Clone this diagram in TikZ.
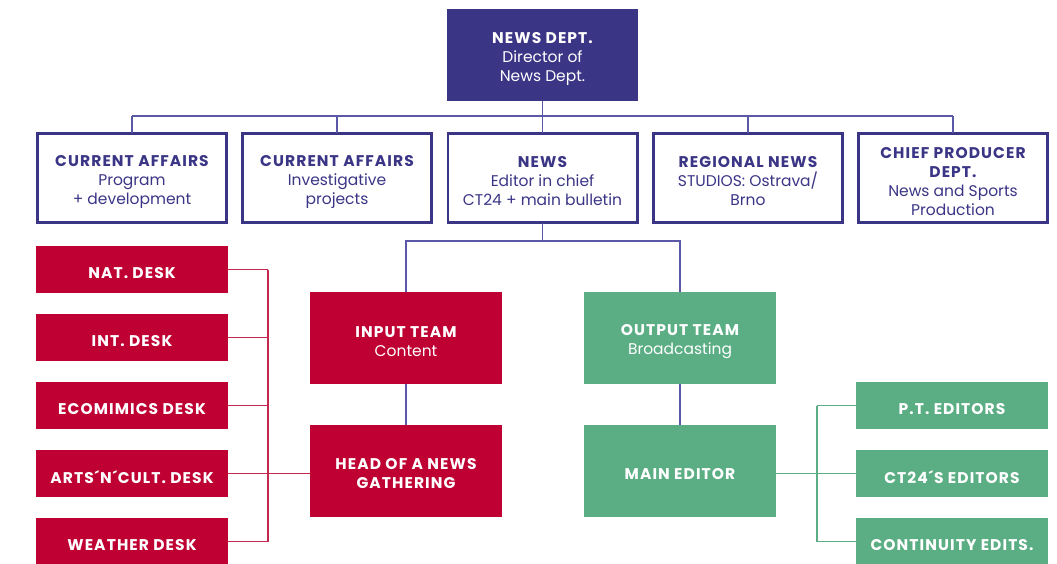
\documentclass[tikz,border=0pt]{standalone}
\usepackage{fontspec}
\setmainfont{Poppins}
\definecolor{navy}{RGB}{59,53,134}
\definecolor{navyline}{RGB}{92,88,168}
\definecolor{crimson}{RGB}{190,0,50}
\definecolor{crimsonline}{RGB}{196,40,78}
\definecolor{jade}{RGB}{91,174,132}
\newcommand\hd[1]{{\bfseries\addfontfeature{LetterSpace=7}#1}}
% box macro: style, text colour, name, position, text
\newcommand\bx[5]{\node[#1, label={[text=#2, yshift=-3.5pt]center:{#5}}] (#3) at (#4) {};}
\begin{document}
\begin{tikzpicture}[x=1pt,y=-1pt,
  every node/.style={inner sep=0pt, outer sep=0pt, align=center,
    font=\fontsize{15.5}{19}\selectfont},
  topbox/.style={fill=navy, minimum width=191, minimum height=92},
  deptbox/.style={draw=navy, line width=2.7pt, fill=white,
    minimum width=189.3, minimum height=89.3},
  redbox/.style={fill=crimson, minimum width=192, minimum height=92},
  greenbox/.style={fill=jade, minimum width=192, minimum height=92},
  reddesk/.style={fill=crimson, minimum width=192, minimum height=47},
  greendesk/.style={fill=jade, minimum width=192, minimum height=47},
  navylink/.style={draw=navyline, line width=1.5pt},
  redlink/.style={draw=crimsonline, line width=1.4pt},
  greenlink/.style={draw=jade, line width=1.4pt}]
\useasboundingbox (0,0) rectangle (1057,563);
\bx{topbox}{white}{top}{542.5,55}{\hd{NEWS DEPT.}\\Director of\\News Dept.}
\bx{deptbox}{navy}{c1}{132,178}{\hd{CURRENT AFFAIRS}\\Program\\+ development}
\bx{deptbox}{navy}{c2}{337,178}{\hd{CURRENT AFFAIRS}\\Investigative\\projects}
\bx{deptbox}{navy}{c3}{542.5,178}{\hd{NEWS}\\Editor in chief\\CT24 + main bulletin}
\bx{deptbox}{navy}{c4}{748,178}{\hd{REGIONAL NEWS}\\STUDIOS: Ostrava/\\Brno}
\bx{deptbox}{navy}{c5}{953,178}{\hd{CHIEF PRODUCER}\\\hd{DEPT.}\\News and Sports\\Production}
\bx{redbox}{white}{input}{406,338}{\hd{INPUT TEAM}\\Content}
\bx{greenbox}{white}{output}{680,338}{\hd{OUTPUT TEAM}\\Broadcasting}
\bx{redbox}{white}{head}{406,470.5}{\hd{HEAD OF A NEWS}\\\hd{GATHERING}}
\bx{greenbox}{white}{main}{680,470.5}{\hd{MAIN EDITOR}}
\bx{reddesk}{white}{nat}{132,269.5}{\hd{NAT. DESK}}
\bx{reddesk}{white}{int}{132,337.5}{\hd{INT. DESK}}
\bx{reddesk}{white}{eco}{132,405.5}{\hd{ECOMIMICS DESK}}
\bx{reddesk}{white}{arts}{132,473.5}{\hd{ARTS´N´CULT. DESK}}
\bx{reddesk}{white}{weather}{132,541.5}{\hd{WEATHER DESK}}
\bx{greendesk}{white}{pt}{952,405.5}{\hd{P.T. EDITORS}}
\bx{greendesk}{white}{ct}{952,473.5}{\hd{CT24´S EDITORS}}
\bx{greendesk}{white}{cont}{952,541.5}{\hd{CONTINUITY EDITS.}}
\coordinate (hb) at (542.5,116);
\coordinate (hb2) at (542.5,241);
\coordinate (rb) at (268,0);
\coordinate (gb) at (817,0);
% top connectors
\draw[navylink] (top.south) -- (hb);
\draw[navylink] (c1.north |- hb) -- (c5.north |- hb);
\foreach \c in {c1,c2,c3,c4,c5} \draw[navylink] (\c.north) -- (\c.north |- hb);
\draw[navylink] (c3.south) -- (hb2);
\draw[navylink] (input.north) |- (hb2) -| (output.north);
\draw[navylink] (input.south) -- (head.north);
\draw[navylink] (output.south) -- (main.north);
% red desks
\foreach \d in {nat,int,eco,arts,weather} \draw[redlink] (\d.east) -- (\d.east -| rb);
\draw[redlink] (nat.east -| rb) -- (weather.east -| rb);
\draw[redlink] (arts.east -| rb) -- (arts.east -| head.west);
% green editors
\foreach \e in {pt,ct,cont} \draw[greenlink] (\e.west) -- (\e.west -| gb);
\draw[greenlink] (pt.west -| gb) -- (cont.west -| gb);
\draw[greenlink] (ct.west -| main.east) -- (ct.west -| gb);
\end{tikzpicture}
\end{document}
